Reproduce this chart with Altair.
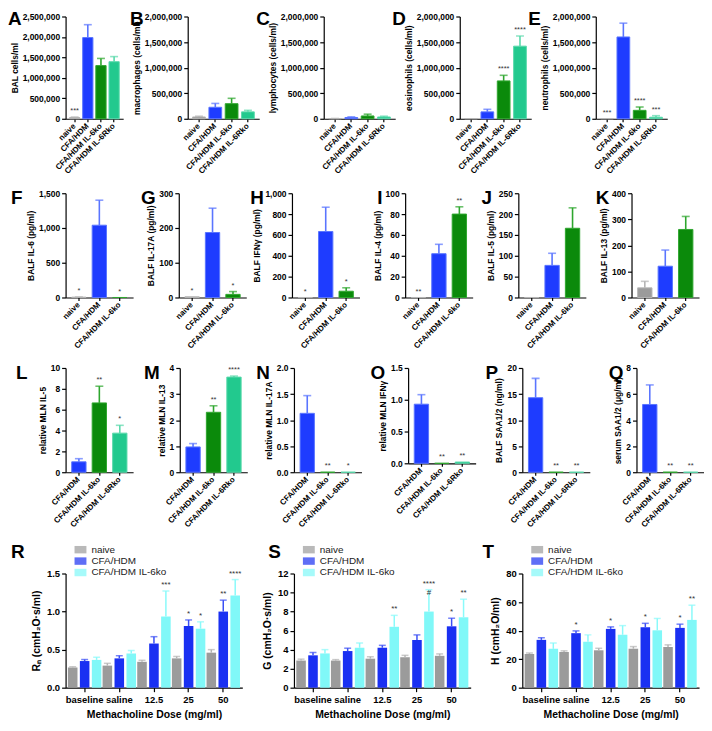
import altair as alt
import pandas as pd

FONT = "Liberation Sans"

# ---------------- colours ----------------
GRAY = "#9b9b9b"
BLUE = "#1e3cff"
GREEN = "#0b8a0b"
TEAL = "#22c98e"
BLUE_R = "#1a30f2"
CYAN = "#80f8f8"
ERR = {GRAY: "#b4b4b4", BLUE: "#5a75ff", GREEN: "#2ea62e", TEAL: "#5ad9ab",
       BLUE_R: "#3a4ff5", CYAN: "#8afafa"}

# ---------------- categories ----------------
CATS_ROW1 = ["naive", "CFA/HDM", "CFA/HDM IL-6ko", "CFA/HDM IL-6Rko"]
CATS_ROW2 = ["naive", "CFA/HDM", "CFA/HDM IL-6ko"]
CATS_ROW3 = ["CFA/HDM", "CFA/HDM IL-6ko", "CFA/HDM IL-6Rko"]
COLS_ROW1 = [GRAY, BLUE, GREEN, TEAL]
COLS_ROW2 = [GRAY, BLUE, GREEN]
COLS_ROW3 = [BLUE, GREEN, TEAL]

# ---------------- row 1 data (cells/ml) ----------------
A_val = [30000, 1985000, 1300000, 1395000]
A_up = [45000, 2300000, 1475000, 1520000]
A_star = ["***", "", "", ""]
B_val = [35000, 225000, 295000, 135000]
B_up = [50000, 300000, 400000, 165000]
B_star = ["", "", "", ""]
C_val = [4000, 25000, 55000, 35000]
C_up = [6000, 38000, 90000, 50000]
C_star = ["", "", "", ""]
D_val = [3000, 135000, 740000, 1420000]
D_up = [3000, 185000, 850000, 1620000]
D_star = ["", "", "****", "****"]
E_val = [3000, 1600000, 165000, 30000]
E_up = [3000, 1870000, 230000, 60000]
E_star = ["***", "", "****", "***"]

# ---------------- row 2 data (pg/ml) ----------------
F_val = [5, 1040, 0]
F_up = [8, 1400, 0]
F_star = ["*", "", "*"]
G_val = [2, 187, 9]
G_up = [2, 257, 17]
G_star = ["*", "", "*"]
H_val = [0, 633, 60]
H_up = [0, 866, 93]
H_star = ["*", "", "*"]
I_val = [0, 42, 80]
I_up = [0, 51, 87]
I_star = ["**", "", "**"]
J_val = [0, 77, 166]
J_up = [0, 106, 215]
J_star = ["", "", ""]
K_val = [37, 120, 261]
K_up = [62, 182, 311]
K_star = ["", "", ""]

# ---------------- row 3 data ----------------
L_val = [1.0, 6.65, 3.75]
L_up = [1.3, 8.25, 4.5]
L_star = ["", "**", "*"]
M_val = [0.97, 2.3, 3.65]
M_up = [1.1, 2.55, 3.69]
M_star = ["", "**", "****"]
N_val = [1.13, 0, 0]
N_up = [1.47, 0, 0]
N_star = ["", "**", "*"]
O_val = [0.93, 0, 0.02]
O_up = [1.08, 0, 0.02]
O_star = ["", "**", "**"]
P_val = [14.3, 0, 0]
P_up = [18.0, 0, 0]
P_star = ["", "**", "**"]
Q_val = [5.2, 0, 0]
Q_up = [6.7, 0, 0]
Q_star = ["", "**", "**"]

# ---------------- row 4 data (lung function) ----------------
DOSES = ["baseline", "saline", "12.5", "25", "50"]
GROUPS = ["naive", "CFA/HDM", "CFA/HDM IL-6ko"]
GROUP_COLS = [GRAY, BLUE_R, CYAN]

R_naive = [0.265, 0.29, 0.34, 0.385, 0.46]
R_naive_up = [0.275, 0.32, 0.36, 0.41, 0.50]
R_cfa = [0.35, 0.385, 0.58, 0.81, 1.00]
R_cfa_up = [0.37, 0.42, 0.67, 0.89, 1.15]
R_ko = [0.365, 0.45, 0.935, 0.775, 1.21]
R_ko_up = [0.40, 0.49, 1.27, 0.865, 1.42]
R_cfa_star = ["", "", "", "*", "**"]
R_ko_star = ["", "", "***", "*", "****"]

S_naive = [2.85, 2.85, 3.05, 3.2, 3.35]
S_naive_up = [3.0, 2.95, 3.25, 3.4, 3.55]
S_cfa = [3.4, 3.85, 4.2, 5.0, 6.45]
S_cfa_up = [3.7, 4.15, 4.45, 5.55, 7.3]
S_ko = [3.6, 4.2, 6.4, 8.0, 7.4]
S_ko_up = [4.0, 4.7, 7.6, 10.3, 9.3]
S_cfa_star = ["", "", "", "", "*"]
S_ko_star = ["", "", "**", "****\n#", "**"]

T_naive = [23.6, 25.0, 26.2, 27.3, 28.5]
T_naive_up = [24.3, 25.8, 27.6, 28.8, 30.0]
T_cfa = [33.5, 38.2, 41.2, 42.3, 41.9]
T_cfa_up = [35.0, 39.8, 42.6, 45.1, 44.5]
T_ko = [27.2, 32.2, 37.1, 40.2, 47.5]
T_ko_up = [31.3, 37.0, 43.5, 48.5, 57.8]
T_cfa_star = ["", "*", "*", "*", "*"]
T_ko_star = ["", "", "", "", "**"]


def ticks(ymax, step):
    n = int(round(ymax / step))
    return [round(i * step, 6) for i in range(n + 1)]


def letter_layer(letter, lx, ly):
    return alt.Chart(pd.DataFrame({"t": [letter]})).mark_text(
        align="left", baseline="top", font=FONT, fontSize=19, fontWeight="bold", color="black"
    ).encode(text="t:N", x=alt.value(lx), y=alt.value(ly))


def bar_panel(letter, lx, ly, cats, cols, vals, ups, stars, ytitle, ymax, step, fmt,
              w, h, pin):
    df = pd.DataFrame({"cat": cats, "val": vals, "up": ups, "star": stars,
                       "col": cols, "ecol": [ERR[c] for c in cols]})
    xax = alt.Axis(title=None, labelAngle=-45, labelAlign="right",
                   labelBaseline="middle", labelFontSize=8, labelPadding=3,
                   tickSize=3, labelOverlap=False)
    xsc = alt.Scale(paddingInner=pin, paddingOuter=0.3)
    ysc = alt.Scale(domain=[0, ymax], nice=False, zero=True)
    yax = alt.Axis(values=ticks(ymax, step), format=fmt, tickSize=4, labelPadding=2,
                   titlePadding=3, labelOverlap=False, title=ytitle)

    def X():
        return alt.X("cat:N", sort=cats, scale=xsc, axis=xax)

    def Y(f):
        return alt.Y(f, scale=ysc, axis=yax)

    base = alt.Chart(df)
    bars = base.mark_bar(strokeWidth=1).encode(
        x=X(), y=Y("val:Q"),
        color=alt.Color("col:N", scale=None), stroke=alt.Stroke("ecol:N", scale=None))
    err = base.transform_filter("datum.up > datum.val").mark_rule(strokeWidth=1.6).encode(
        x=X(), y=Y("val:Q"), y2="up:Q", color=alt.Color("ecol:N", scale=None))
    cap = base.transform_filter("datum.up > datum.val").mark_tick(
        thickness=1.6, size=8).encode(
        x=X(), y=Y("up:Q"), color=alt.Color("ecol:N", scale=None))
    txt = base.mark_text(baseline="bottom", dy=-2, fontSize=7.5, font=FONT,
                         color="#333333").encode(x=X(), y=Y("up:Q"), text="star:N")
    return alt.layer(bars, err, cap, txt, letter_layer(letter, lx, ly)).properties(
        width=w, height=h)


def group_panel(letter, lx, ly, series, ups, stars, ytitle, ymax, step, fmt, w, h):
    rows = []
    for gi, g in enumerate(GROUPS):
        for di, d in enumerate(DOSES):
            rows.append({"dose": d, "grp": g, "val": series[gi][di], "up": ups[gi][di],
                         "star": stars[gi][di], "ecol": ERR[GROUP_COLS[gi]]})
    df = pd.DataFrame(rows)
    xax = alt.Axis(title="Methacholine Dose (mg/ml)", labelAngle=0,
                   labelFontSize=9.5, titleFontSize=10.5, titlePadding=6,
                   tickSize=4, labelPadding=3)
    xsc = alt.Scale(paddingInner=0.0, paddingOuter=0.05)
    xosc = alt.Scale(paddingInner=0.2, paddingOuter=0.05)
    ysc = alt.Scale(domain=[0, ymax], nice=False, zero=True)
    yax = alt.Axis(values=ticks(ymax, step), format=fmt, labelFontSize=9.5,
                   titleFontSize=10.5, tickSize=4, labelPadding=2, titlePadding=5,
                   labelOverlap=False, title=ytitle)

    def X():
        return alt.X("dose:N", sort=DOSES, scale=xsc, axis=xax)

    def XO():
        return alt.XOffset("grp:N", sort=GROUPS, scale=xosc)

    def Y(f):
        return alt.Y(f, scale=ysc, axis=yax)

    base = alt.Chart(df)
    bars = base.mark_bar().encode(
        x=X(), xOffset=XO(), y=Y("val:Q"),
        color=alt.Color("grp:N", sort=GROUPS,
                        scale=alt.Scale(domain=GROUPS, range=GROUP_COLS),
                        legend=alt.Legend(orient="none", legendX=10, legendY=ly + 2,
                                          title=None, labelFont=FONT, labelFontSize=10,
                                          labelColor="#222222",
                                          symbolType="M-1.6,-1L1.6,-1L1.6,1L-1.6,1Z",
                                          symbolSize=56, symbolStrokeWidth=0,
                                          rowPadding=1.5, labelOffset=6)))
    err = base.mark_rule(strokeWidth=1.5).encode(
        x=X(), xOffset=XO(), y=Y("val:Q"), y2="up:Q",
        color=alt.Color("ecol:N", scale=None))
    cap = base.mark_tick(thickness=1.5, size=7).encode(
        x=X(), xOffset=XO(), y=Y("up:Q"), color=alt.Color("ecol:N", scale=None))
    txt = base.mark_text(baseline="bottom", dy=-2, fontSize=8, font=FONT,
                         color="#333333", lineBreak="\n", lineHeight=9).encode(
        x=X(), xOffset=XO(), y=Y("up:Q"), text="star:N")
    return alt.layer(bars, err, cap, txt, letter_layer(letter, lx, ly)).properties(
        width=w, height=h)


# ---------------- row 1 ----------------
H1 = 103
row1 = alt.hconcat(
    bar_panel("A", -58, -6, CATS_ROW1, COLS_ROW1, A_val, A_up, A_star, "BAL cells/ml",
              2500000, 500000, ",d", 58, H1, 0.22),
    bar_panel("B", -58, -6, CATS_ROW1, COLS_ROW1, B_val, B_up, B_star,
              "macrophages (cells/ml)", 2000000, 500000, ",d", 72, H1, 0.22),
    bar_panel("C", -68, -6, CATS_ROW1, COLS_ROW1, C_val, C_up, C_star,
              "lymphocytes (cells/ml)", 2000000, 500000, ",d", 72, H1, 0.22),
    bar_panel("D", -68, -6, CATS_ROW1, COLS_ROW1, D_val, D_up, D_star,
              "eosinophils (cells/ml)", 2000000, 500000, ",d", 72, H1, 0.22),
    bar_panel("E", -68, -6, CATS_ROW1, COLS_ROW1, E_val, E_up, E_star,
              "neutrophils (cells/ml)", 2000000, 500000, ",d", 72, H1, 0.22),
    spacing=65, bounds="flush",
).resolve_scale(x="independent", y="independent")

# ---------------- row 2 ----------------
H2 = 105
row2 = alt.hconcat(
    bar_panel("F", -55, -4, CATS_ROW2, COLS_ROW2, F_val, F_up, F_star, "BALF IL-6 (pg/ml)",
              1500, 500, ",d", 68, H2, 0.3),
    bar_panel("G", -38, -4, CATS_ROW2, COLS_ROW2, G_val, G_up, G_star,
              "BALF IL-17A (pg/ml)", 300, 100, "d", 68, H2, 0.3),
    bar_panel("H", -42, -4, CATS_ROW2, COLS_ROW2, H_val, H_up, H_star,
              "BALF IFNγ (pg/ml)", 1000, 200, ",d", 68, H2, 0.3),
    bar_panel("I", -28, -4, CATS_ROW2, COLS_ROW2, I_val, I_up, I_star,
              "BALF IL-4 (pg/ml)", 100, 20, "d", 68, H2, 0.3),
    bar_panel("J", -37, -4, CATS_ROW2, COLS_ROW2, J_val, J_up, J_star,
              "BALF IL-5 (pg/ml)", 250, 50, "d", 68, H2, 0.3),
    bar_panel("K", -36, -4, CATS_ROW2, COLS_ROW2, K_val, K_up, K_star,
              "BALF IL-13 (pg/ml)", 400, 100, "d", 68, H2, 0.3),
    spacing=46, bounds="flush",
).resolve_scale(x="independent", y="independent")

# ---------------- row 3 ----------------
H3 = 105
row3 = alt.hconcat(
    bar_panel("L", -50, -4, CATS_ROW3, COLS_ROW3, L_val, L_up, L_star, "relative MLN IL-5",
              10, 2, "d", 68, H3, 0.3),
    bar_panel("M", -36, -4, CATS_ROW3, COLS_ROW3, M_val, M_up, M_star,
              "relative MLN IL-13", 4, 1, "d", 68, H3, 0.3),
    bar_panel("N", -38, -4, CATS_ROW3, COLS_ROW3, N_val, N_up, N_star,
              "relative MLN IL-17A", 2.0, 0.5, ".1f", 68, H3, 0.3),
    bar_panel("O", -38, -4, CATS_ROW3, COLS_ROW3, O_val, O_up, O_star,
              "relative MLN IFNγ", 1.5, 0.5, ".1f", 68, 96, 0.3),
    bar_panel("P", -37, -4, CATS_ROW3, COLS_ROW3, P_val, P_up, P_star,
              "BALF SAA1/2 (ng/ml)", 20, 5, "d", 68, H3, 0.3),
    bar_panel("Q", -28, -4, CATS_ROW3, COLS_ROW3, Q_val, Q_up, Q_star,
              "serum SAA1/2 (μg/ml)", 8, 2, "d", 68, H3, 0.3),
    spacing=47, bounds="flush",
).resolve_scale(x="independent", y="independent")

# ---------------- row 4 ----------------
H4 = 115
row4 = alt.hconcat(
    group_panel("R", -55, -31, [R_naive, R_cfa, R_ko], [R_naive_up, R_cfa_up, R_ko_up],
                [[""] * 5, R_cfa_star, R_ko_star], "Rₙ (cmH₂O·s/ml)", 1.5, 0.5, ".1f",
                178, H4),
    group_panel("S", -26, -31, [S_naive, S_cfa, S_ko], [S_naive_up, S_cfa_up, S_ko_up],
                [[""] * 5, S_cfa_star, S_ko_star], "G (cmH₂O·s/ml)", 12, 2, "d",
                178, H4),
    group_panel("T", -40, -31, [T_naive, T_cfa, T_ko], [T_naive_up, T_cfa_up, T_ko_up],
                [[""] * 5, T_cfa_star, T_ko_star], "H (cmH₂O/ml)", 80, 20, "d",
                178, H4),
    spacing=52, bounds="flush",
).resolve_scale(x="independent", y="independent", color="independent")

chart = alt.vconcat(row1, row2, row3, row4, spacing=14).resolve_scale(
    x="independent", y="independent", color="independent"
).properties(padding=0).configure_view(stroke=None).configure_axis(
    labelFont=FONT, titleFont=FONT, labelFontWeight="bold", titleFontWeight="bold",
    labelFontSize=8.5, titleFontSize=8.5, labelColor="black", titleColor="black",
    domainColor="black", tickColor="black", domainWidth=1.2, tickWidth=1.2, grid=False,
).configure_legend(labelFont=FONT)

chart.save("out.html", embed_options={"renderer": "svg", "actions": False})
